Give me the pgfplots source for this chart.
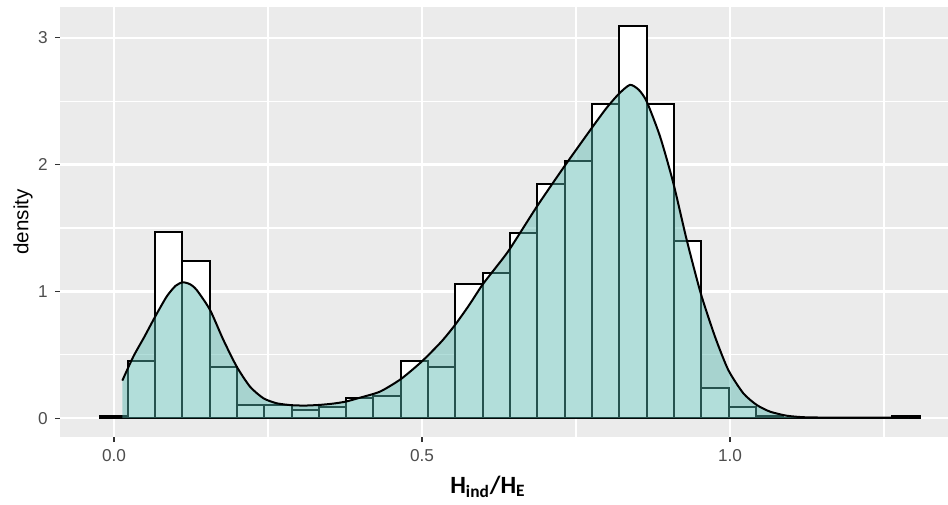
\documentclass[border=0pt]{standalone}
\usepackage{fontspec}
\setmainfont{Liberation Sans}
\newfontfamily\carlito{Carlito}
\usepackage{pgfplots}
\pgfplotsset{compat=1.18}
\usepackage{pgfplotstable}
\definecolor{panel}{HTML}{EBEBEB}
\definecolor{ticklab}{HTML}{4D4D4D}
\definecolor{tickcol}{HTML}{333333}
\definecolor{dens}{RGB}{86,182,175}

% histogram: left bin edges and densities (last row closes the final bin)
\pgfplotstableread{
x y
-0.02217 0.016
0.02217 0.450
0.06651 1.468
0.11085 1.241
0.15519 0.402
0.19953 0.107
0.24387 0.103
0.28821 0.065
0.33255 0.087
0.37689 0.158
0.42123 0.178
0.46557 0.452
0.50991 0.402
0.55425 1.057
0.59859 1.149
0.64293 1.465
0.68727 1.847
0.73161 2.028
0.77595 2.478
0.82029 3.091
0.86463 2.478
0.90897 1.400
0.95331 0.242
0.99765 0.087
1.04199 0.016
1.08633 0
1.13067 0
1.17501 0
1.21935 0
1.26369 0.016
1.30803 0.016
}\histtable

% kernel density estimate
\pgfplotstableread{
x y
0.0135 0.297
0.0313 0.486
0.0490 0.640
0.0666 0.800
0.0855 0.960
0.1000 1.045
0.1115 1.072
0.1230 1.058
0.1340 1.013
0.1558 0.855
0.1775 0.618
0.1992 0.407
0.2208 0.249
0.2424 0.158
0.2640 0.118
0.2880 0.103
0.3100 0.100
0.3333 0.105
0.3550 0.115
0.3760 0.131
0.4000 0.163
0.4318 0.210
0.4654 0.308
0.4995 0.447
0.5316 0.605
0.5536 0.736
0.5760 0.889
0.5980 1.052
0.6200 1.190
0.6418 1.330
0.6865 1.670
0.7310 1.986
0.7755 2.289
0.8000 2.450
0.8198 2.560
0.8377 2.630
0.8520 2.590
0.8647 2.499
0.8864 2.223
0.9080 1.855
0.9297 1.407
0.9524 0.987
0.9756 0.644
0.9972 0.381
1.0216 0.197
1.0433 0.105
1.0650 0.052
1.0920 0.020
1.1200 0.008
1.1600 0.005
1.2200 0.004
1.2900 0.004
}\denstable

\begin{document}
\begin{tikzpicture}
\useasboundingbox (0,0) rectangle (474pt,252pt);
\begin{axis}[
  at={(30pt,33.5pt)}, anchor=south west,
  scale only axis, width=444pt, height=215pt,
  xmin=-0.0877, xmax=1.3539, ymin=-0.148, ymax=3.244,
  axis background/.style={fill=panel},
  axis line style={draw=none},
  xtick={0,0.5,1}, xticklabels={0.0,0.5,1.0},
  ytick={0,1,2,3}, yticklabels={0,1,2,3},
  minor xtick={0.25,0.75,1.25}, minor ytick={0.5,1.5,2.5},
  xtick pos=bottom, ytick pos=left,
  grid=both,
  major grid style={white, line width=1.2pt},
  minor grid style={white, line width=0.6pt},
  tick align=outside, major tick length=2.6pt, minor tick length=0pt,
  tick style={tickcol, line width=0.55pt},
  ticklabel style={font=\fontsize{8.6}{10}\selectfont, text=ticklab},
  /pgf/number format/assume math mode=true,
]
\addplot[ybar interval, fill=white, draw=black, line width=1pt] table {\histtable};
\addplot[draw=none, fill=dens, fill opacity=0.45, smooth, tension=0.4] table {\denstable} \closedcycle;
\addplot[black, line width=1pt, smooth, tension=0.4] table {\denstable};
\end{axis}
\node[rotate=90, anchor=center, font=\fontsize{10.3}{12}\selectfont] at (11.5pt,141pt) {density};
\node[anchor=base, font=\carlito\bfseries\fontsize{12.4}{14}\selectfont] at (244pt,5.35pt) {H\textsubscript{ind}/H\textsubscript{E}};
\end{tikzpicture}
\end{document}
